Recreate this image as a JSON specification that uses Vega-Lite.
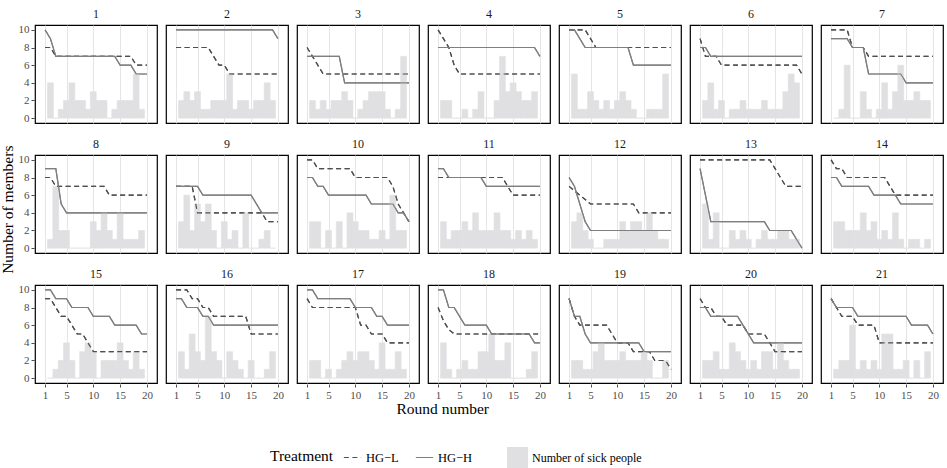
{
"$schema":"https://vega.github.io/schema/vega-lite/v6.json",
"padding":{"left":0,"top":7,"right":2,"bottom":2},
"title":{"text":"Number of members","orient":"left","anchor":"middle","dx":28,"font":"Liberation Serif","fontSize":15.5,"fontWeight":"normal","color":"#000000","offset":2},
"data":{"values":[
{"p":1,"r":1,"L":8,"H":10},{"p":1,"r":2,"L":8,"H":9,"S":4},{"p":1,"r":3,"L":7,"H":7,"S":0},{"p":1,"r":4,"L":7,"H":7,"S":1},{"p":1,"r":5,"L":7,"H":7,"S":2},{"p":1,"r":6,"L":7,"H":7,"S":4},{"p":1,"r":7,"L":7,"H":7,"S":2},{"p":1,"r":8,"L":7,"H":7,"S":2},{"p":1,"r":9,"L":7,"H":7,"S":1},{"p":1,"r":10,"L":7,"H":7,"S":3},{"p":1,"r":11,"L":7,"H":7,"S":2},{"p":1,"r":12,"L":7,"H":7,"S":2},{"p":1,"r":13,"L":7,"H":7,"S":0},{"p":1,"r":14,"L":7,"H":7,"S":1},{"p":1,"r":15,"L":7,"H":6,"S":2},{"p":1,"r":16,"L":7,"H":6,"S":2},{"p":1,"r":17,"L":7,"H":6,"S":2},{"p":1,"r":18,"L":6,"H":5,"S":5},{"p":1,"r":19,"L":6,"H":5,"S":1},{"p":1,"r":20,"L":6,"H":5},
{"p":2,"r":1,"L":8,"H":10},{"p":2,"r":2,"L":8,"H":10,"S":2},{"p":2,"r":3,"L":8,"H":10,"S":3},{"p":2,"r":4,"L":8,"H":10,"S":2},{"p":2,"r":5,"L":8,"H":10,"S":3},{"p":2,"r":6,"L":8,"H":10,"S":1},{"p":2,"r":7,"L":8,"H":10,"S":1},{"p":2,"r":8,"L":7,"H":10,"S":2},{"p":2,"r":9,"L":6,"H":10,"S":2},{"p":2,"r":10,"L":6,"H":10,"S":2},{"p":2,"r":11,"L":5,"H":10,"S":5},{"p":2,"r":12,"L":5,"H":10,"S":1},{"p":2,"r":13,"L":5,"H":10,"S":2},{"p":2,"r":14,"L":5,"H":10,"S":2},{"p":2,"r":15,"L":5,"H":10,"S":1},{"p":2,"r":16,"L":5,"H":10,"S":2},{"p":2,"r":17,"L":5,"H":10,"S":2},{"p":2,"r":18,"L":5,"H":10,"S":4},{"p":2,"r":19,"L":5,"H":10,"S":2},{"p":2,"r":20,"L":5,"H":9},
{"p":3,"r":1,"L":8,"H":7},{"p":3,"r":2,"L":7,"H":7,"S":2},{"p":3,"r":3,"L":6,"H":7,"S":1},{"p":3,"r":4,"L":5,"H":7,"S":2},{"p":3,"r":5,"L":5,"H":7,"S":1},{"p":3,"r":6,"L":5,"H":7,"S":2},{"p":3,"r":7,"L":5,"H":7,"S":2},{"p":3,"r":8,"L":5,"H":4,"S":3},{"p":3,"r":9,"L":5,"H":4,"S":2},{"p":3,"r":10,"L":5,"H":4,"S":0},{"p":3,"r":11,"L":5,"H":4,"S":1},{"p":3,"r":12,"L":5,"H":4,"S":2},{"p":3,"r":13,"L":5,"H":4,"S":3},{"p":3,"r":14,"L":5,"H":4,"S":3},{"p":3,"r":15,"L":5,"H":4,"S":3},{"p":3,"r":16,"L":5,"H":4,"S":1},{"p":3,"r":17,"L":5,"H":4,"S":0},{"p":3,"r":18,"L":5,"H":4,"S":1},{"p":3,"r":19,"L":5,"H":4,"S":7},{"p":3,"r":20,"L":5,"H":4},
{"p":4,"r":1,"L":10,"H":8},{"p":4,"r":2,"L":9,"H":8,"S":2},{"p":4,"r":3,"L":8,"H":8,"S":2},{"p":4,"r":4,"L":6,"H":8,"S":0},{"p":4,"r":5,"L":5,"H":8,"S":0},{"p":4,"r":6,"L":5,"H":8,"S":1},{"p":4,"r":7,"L":5,"H":8,"S":0},{"p":4,"r":8,"L":5,"H":8,"S":1},{"p":4,"r":9,"L":5,"H":8,"S":3},{"p":4,"r":10,"L":5,"H":8,"S":0},{"p":4,"r":11,"L":5,"H":8,"S":0},{"p":4,"r":12,"L":5,"H":8,"S":2},{"p":4,"r":13,"L":5,"H":8,"S":7},{"p":4,"r":14,"L":5,"H":8,"S":3},{"p":4,"r":15,"L":5,"H":8,"S":4},{"p":4,"r":16,"L":5,"H":8,"S":3},{"p":4,"r":17,"L":5,"H":8,"S":2},{"p":4,"r":18,"L":5,"H":8,"S":2},{"p":4,"r":19,"L":5,"H":8,"S":3},{"p":4,"r":20,"L":5,"H":7},
{"p":5,"r":1,"L":10,"H":10},{"p":5,"r":2,"L":10,"H":10,"S":5},{"p":5,"r":3,"L":10,"H":9,"S":1},{"p":5,"r":4,"L":10,"H":8,"S":1},{"p":5,"r":5,"L":9,"H":8,"S":3},{"p":5,"r":6,"L":8,"H":8,"S":2},{"p":5,"r":7,"L":8,"H":8,"S":1},{"p":5,"r":8,"L":8,"H":8,"S":2},{"p":5,"r":9,"L":8,"H":8,"S":1},{"p":5,"r":10,"L":8,"H":8,"S":2},{"p":5,"r":11,"L":8,"H":8,"S":3},{"p":5,"r":12,"L":8,"H":8,"S":2},{"p":5,"r":13,"L":8,"H":6,"S":1},{"p":5,"r":14,"L":8,"H":6,"S":0},{"p":5,"r":15,"L":8,"H":6,"S":0},{"p":5,"r":16,"L":8,"H":6,"S":1},{"p":5,"r":17,"L":8,"H":6,"S":1},{"p":5,"r":18,"L":8,"H":6,"S":1},{"p":5,"r":19,"L":8,"H":6,"S":5},{"p":5,"r":20,"L":8,"H":6},
{"p":6,"r":1,"L":9,"H":8},{"p":6,"r":2,"L":7,"H":8,"S":2},{"p":6,"r":3,"L":7,"H":7,"S":4},{"p":6,"r":4,"L":7,"H":7,"S":1},{"p":6,"r":5,"L":6,"H":7,"S":2},{"p":6,"r":6,"L":6,"H":7,"S":0},{"p":6,"r":7,"L":6,"H":7,"S":1},{"p":6,"r":8,"L":6,"H":7,"S":1},{"p":6,"r":9,"L":6,"H":7,"S":2},{"p":6,"r":10,"L":6,"H":7,"S":1},{"p":6,"r":11,"L":6,"H":7,"S":1},{"p":6,"r":12,"L":6,"H":7,"S":1},{"p":6,"r":13,"L":6,"H":7,"S":2},{"p":6,"r":14,"L":6,"H":7,"S":1},{"p":6,"r":15,"L":6,"H":7,"S":1},{"p":6,"r":16,"L":6,"H":7,"S":1},{"p":6,"r":17,"L":6,"H":7,"S":3},{"p":6,"r":18,"L":6,"H":7,"S":5},{"p":6,"r":19,"L":6,"H":7,"S":4},{"p":6,"r":20,"L":5,"H":7},
{"p":7,"r":1,"L":10,"H":9},{"p":7,"r":2,"L":10,"H":9,"S":0},{"p":7,"r":3,"L":10,"H":9,"S":1},{"p":7,"r":4,"L":10,"H":9,"S":6},{"p":7,"r":5,"L":8,"H":8,"S":0},{"p":7,"r":6,"L":8,"H":8,"S":0},{"p":7,"r":7,"L":8,"H":8,"S":3},{"p":7,"r":8,"L":7,"H":5,"S":1},{"p":7,"r":9,"L":7,"H":5,"S":0},{"p":7,"r":10,"L":7,"H":5,"S":1},{"p":7,"r":11,"L":7,"H":5,"S":4},{"p":7,"r":12,"L":7,"H":5,"S":1},{"p":7,"r":13,"L":7,"H":5,"S":3},{"p":7,"r":14,"L":7,"H":5,"S":6},{"p":7,"r":15,"L":7,"H":4,"S":2},{"p":7,"r":16,"L":7,"H":4,"S":2},{"p":7,"r":17,"L":7,"H":4,"S":3},{"p":7,"r":18,"L":7,"H":4,"S":2},{"p":7,"r":19,"L":7,"H":4,"S":2},{"p":7,"r":20,"L":7,"H":4},
{"p":8,"r":1,"L":8,"H":9},{"p":8,"r":2,"L":8,"H":9,"S":1},{"p":8,"r":3,"L":7,"H":9,"S":7},{"p":8,"r":4,"L":7,"H":5,"S":2},{"p":8,"r":5,"L":7,"H":4,"S":2},{"p":8,"r":6,"L":7,"H":4,"S":0},{"p":8,"r":7,"L":7,"H":4,"S":0},{"p":8,"r":8,"L":7,"H":4,"S":0},{"p":8,"r":9,"L":7,"H":4,"S":0},{"p":8,"r":10,"L":7,"H":4,"S":3},{"p":8,"r":11,"L":7,"H":4,"S":2},{"p":8,"r":12,"L":7,"H":4,"S":4},{"p":8,"r":13,"L":6,"H":4,"S":2},{"p":8,"r":14,"L":6,"H":4,"S":1},{"p":8,"r":15,"L":6,"H":4,"S":4},{"p":8,"r":16,"L":6,"H":4,"S":1},{"p":8,"r":17,"L":6,"H":4,"S":1},{"p":8,"r":18,"L":6,"H":4,"S":1},{"p":8,"r":19,"L":6,"H":4,"S":2},{"p":8,"r":20,"L":6,"H":4},
{"p":9,"r":1,"L":7,"H":7},{"p":9,"r":2,"L":7,"H":7,"S":3},{"p":9,"r":3,"L":7,"H":7,"S":6},{"p":9,"r":4,"L":7,"H":7,"S":2},{"p":9,"r":5,"L":4,"H":7,"S":5},{"p":9,"r":6,"L":4,"H":6,"S":3},{"p":9,"r":7,"L":4,"H":6,"S":5},{"p":9,"r":8,"L":4,"H":6,"S":2},{"p":9,"r":9,"L":4,"H":6,"S":0},{"p":9,"r":10,"L":4,"H":6,"S":3},{"p":9,"r":11,"L":4,"H":6,"S":1},{"p":9,"r":12,"L":4,"H":6,"S":2},{"p":9,"r":13,"L":4,"H":6,"S":0},{"p":9,"r":14,"L":4,"H":6,"S":4},{"p":9,"r":15,"L":4,"H":6,"S":0},{"p":9,"r":16,"L":4,"H":5,"S":0},{"p":9,"r":17,"L":4,"H":4,"S":1},{"p":9,"r":18,"L":3,"H":4,"S":2},{"p":9,"r":19,"L":3,"H":4,"S":0},{"p":9,"r":20,"L":3,"H":4},
{"p":10,"r":1,"L":10,"H":8},{"p":10,"r":2,"L":10,"H":8,"S":3},{"p":10,"r":3,"L":9,"H":7,"S":3},{"p":10,"r":4,"L":9,"H":7,"S":0},{"p":10,"r":5,"L":9,"H":6,"S":2},{"p":10,"r":6,"L":9,"H":6,"S":0},{"p":10,"r":7,"L":9,"H":6,"S":3},{"p":10,"r":8,"L":9,"H":6,"S":0},{"p":10,"r":9,"L":9,"H":6,"S":4},{"p":10,"r":10,"L":8,"H":6,"S":3},{"p":10,"r":11,"L":8,"H":6,"S":2},{"p":10,"r":12,"L":8,"H":6,"S":2},{"p":10,"r":13,"L":8,"H":5,"S":1},{"p":10,"r":14,"L":8,"H":5,"S":1},{"p":10,"r":15,"L":8,"H":5,"S":2},{"p":10,"r":16,"L":8,"H":5,"S":1},{"p":10,"r":17,"L":7,"H":5,"S":6},{"p":10,"r":18,"L":5,"H":4,"S":2},{"p":10,"r":19,"L":4,"H":4,"S":2},{"p":10,"r":20,"L":3,"H":3},
{"p":11,"r":1,"L":8,"H":9},{"p":11,"r":2,"L":8,"H":9,"S":3},{"p":11,"r":3,"L":8,"H":8,"S":1},{"p":11,"r":4,"L":8,"H":8,"S":2},{"p":11,"r":5,"L":8,"H":8,"S":2},{"p":11,"r":6,"L":8,"H":8,"S":3},{"p":11,"r":7,"L":8,"H":8,"S":2},{"p":11,"r":8,"L":8,"H":8,"S":4},{"p":11,"r":9,"L":8,"H":8,"S":2},{"p":11,"r":10,"L":8,"H":7,"S":2},{"p":11,"r":11,"L":8,"H":7,"S":2},{"p":11,"r":12,"L":8,"H":7,"S":4},{"p":11,"r":13,"L":8,"H":7,"S":2},{"p":11,"r":14,"L":7,"H":7,"S":2},{"p":11,"r":15,"L":6,"H":7,"S":1},{"p":11,"r":16,"L":6,"H":7,"S":2},{"p":11,"r":17,"L":6,"H":7,"S":1},{"p":11,"r":18,"L":6,"H":7,"S":2},{"p":11,"r":19,"L":6,"H":7,"S":1},{"p":11,"r":20,"L":6,"H":7},
{"p":12,"r":1,"L":7,"H":8},{"p":12,"r":2,"L":6.5,"H":7,"S":3},{"p":12,"r":3,"L":6,"H":5,"S":4},{"p":12,"r":4,"L":5.5,"H":3,"S":2},{"p":12,"r":5,"L":5,"H":2,"S":1},{"p":12,"r":6,"L":5,"H":2,"S":0},{"p":12,"r":7,"L":5,"H":2,"S":0},{"p":12,"r":8,"L":5,"H":2,"S":1},{"p":12,"r":9,"L":5,"H":2,"S":1},{"p":12,"r":10,"L":5,"H":2,"S":1},{"p":12,"r":11,"L":5,"H":2,"S":3},{"p":12,"r":12,"L":5,"H":2,"S":2},{"p":12,"r":13,"L":5,"H":2,"S":3},{"p":12,"r":14,"L":4,"H":2,"S":3},{"p":12,"r":15,"L":4,"H":2,"S":2},{"p":12,"r":16,"L":4,"H":2,"S":4},{"p":12,"r":17,"L":4,"H":2,"S":2},{"p":12,"r":18,"L":4,"H":2,"S":1},{"p":12,"r":19,"L":4,"H":2,"S":1},{"p":12,"r":20,"L":4,"H":2},
{"p":13,"r":1,"L":10,"H":9},{"p":13,"r":2,"L":10,"H":6,"S":5},{"p":13,"r":3,"L":10,"H":3,"S":1},{"p":13,"r":4,"L":10,"H":3,"S":4},{"p":13,"r":5,"L":10,"H":3,"S":0},{"p":13,"r":6,"L":10,"H":3,"S":0},{"p":13,"r":7,"L":10,"H":3,"S":2},{"p":13,"r":8,"L":10,"H":3,"S":1},{"p":13,"r":9,"L":10,"H":3,"S":2},{"p":13,"r":10,"L":10,"H":3,"S":1},{"p":13,"r":11,"L":10,"H":3,"S":0},{"p":13,"r":12,"L":10,"H":3,"S":1},{"p":13,"r":13,"L":10,"H":3,"S":2},{"p":13,"r":14,"L":10,"H":2,"S":1},{"p":13,"r":15,"L":9,"H":2,"S":1},{"p":13,"r":16,"L":8,"H":2,"S":2},{"p":13,"r":17,"L":7,"H":2,"S":2},{"p":13,"r":18,"L":7,"H":2,"S":1},{"p":13,"r":19,"L":7,"H":1,"S":1},{"p":13,"r":20,"L":7,"H":0},
{"p":14,"r":1,"L":10,"H":8},{"p":14,"r":2,"L":9,"H":8,"S":3},{"p":14,"r":3,"L":9,"H":7,"S":3},{"p":14,"r":4,"L":8,"H":7,"S":2},{"p":14,"r":5,"L":8,"H":7,"S":2},{"p":14,"r":6,"L":8,"H":7,"S":2},{"p":14,"r":7,"L":8,"H":7,"S":4},{"p":14,"r":8,"L":8,"H":7,"S":2},{"p":14,"r":9,"L":8,"H":6,"S":3},{"p":14,"r":10,"L":8,"H":6,"S":1},{"p":14,"r":11,"L":8,"H":6,"S":2},{"p":14,"r":12,"L":7,"H":6,"S":1},{"p":14,"r":13,"L":6,"H":6,"S":4},{"p":14,"r":14,"L":6,"H":5,"S":1},{"p":14,"r":15,"L":6,"H":5,"S":0},{"p":14,"r":16,"L":6,"H":5,"S":1},{"p":14,"r":17,"L":6,"H":5,"S":1},{"p":14,"r":18,"L":6,"H":5,"S":0},{"p":14,"r":19,"L":6,"H":5,"S":1},{"p":14,"r":20,"L":6,"H":5},
{"p":15,"r":1,"L":9,"H":10},{"p":15,"r":2,"L":9,"H":10,"S":0},{"p":15,"r":3,"L":8,"H":9,"S":1},{"p":15,"r":4,"L":7,"H":9,"S":2},{"p":15,"r":5,"L":7,"H":9,"S":4},{"p":15,"r":6,"L":6,"H":8,"S":2},{"p":15,"r":7,"L":5,"H":8,"S":0},{"p":15,"r":8,"L":5,"H":8,"S":3},{"p":15,"r":9,"L":4,"H":8,"S":4},{"p":15,"r":10,"L":3,"H":7,"S":3},{"p":15,"r":11,"L":3,"H":7,"S":0},{"p":15,"r":12,"L":3,"H":7,"S":2},{"p":15,"r":13,"L":3,"H":7,"S":2},{"p":15,"r":14,"L":3,"H":6,"S":2},{"p":15,"r":15,"L":3,"H":6,"S":4},{"p":15,"r":16,"L":3,"H":6,"S":2},{"p":15,"r":17,"L":3,"H":6,"S":1},{"p":15,"r":18,"L":3,"H":6,"S":3},{"p":15,"r":19,"L":3,"H":5,"S":1},{"p":15,"r":20,"L":3,"H":5},
{"p":16,"r":1,"L":10,"H":9},{"p":16,"r":2,"L":10,"H":9,"S":3},{"p":16,"r":3,"L":10,"H":8,"S":1},{"p":16,"r":4,"L":9,"H":8,"S":5},{"p":16,"r":5,"L":9,"H":8,"S":3},{"p":16,"r":6,"L":8,"H":7,"S":2},{"p":16,"r":7,"L":8,"H":7,"S":7},{"p":16,"r":8,"L":7,"H":6,"S":3},{"p":16,"r":9,"L":7,"H":6,"S":2},{"p":16,"r":10,"L":7,"H":6,"S":0},{"p":16,"r":11,"L":7,"H":6,"S":3},{"p":16,"r":12,"L":7,"H":6,"S":2},{"p":16,"r":13,"L":7,"H":6,"S":1},{"p":16,"r":14,"L":7,"H":6,"S":0},{"p":16,"r":15,"L":5,"H":6,"S":2},{"p":16,"r":16,"L":5,"H":6,"S":0},{"p":16,"r":17,"L":5,"H":6,"S":0},{"p":16,"r":18,"L":5,"H":6,"S":1},{"p":16,"r":19,"L":5,"H":6,"S":3},{"p":16,"r":20,"L":5,"H":6},
{"p":17,"r":1,"L":9,"H":10},{"p":17,"r":2,"L":8,"H":10,"S":2},{"p":17,"r":3,"L":8,"H":9,"S":2},{"p":17,"r":4,"L":8,"H":9,"S":0},{"p":17,"r":5,"L":8,"H":9,"S":1},{"p":17,"r":6,"L":8,"H":9,"S":0},{"p":17,"r":7,"L":8,"H":9,"S":1},{"p":17,"r":8,"L":8,"H":9,"S":2},{"p":17,"r":9,"L":8,"H":9,"S":3},{"p":17,"r":10,"L":8,"H":8,"S":2},{"p":17,"r":11,"L":6,"H":8,"S":3},{"p":17,"r":12,"L":6,"H":8,"S":3},{"p":17,"r":13,"L":5,"H":8,"S":2},{"p":17,"r":14,"L":5,"H":7,"S":1},{"p":17,"r":15,"L":5,"H":7,"S":4},{"p":17,"r":16,"L":4,"H":6,"S":1},{"p":17,"r":17,"L":4,"H":6,"S":1},{"p":17,"r":18,"L":4,"H":6,"S":3},{"p":17,"r":19,"L":4,"H":6,"S":1},{"p":17,"r":20,"L":4,"H":6},
{"p":18,"r":1,"L":8,"H":10},{"p":18,"r":2,"L":6.5,"H":10,"S":4},{"p":18,"r":3,"L":5.5,"H":8,"S":1},{"p":18,"r":4,"L":5,"H":8,"S":0},{"p":18,"r":5,"L":5,"H":7,"S":1},{"p":18,"r":6,"L":5,"H":6,"S":2},{"p":18,"r":7,"L":5,"H":6,"S":1},{"p":18,"r":8,"L":5,"H":6,"S":1},{"p":18,"r":9,"L":5,"H":6,"S":3},{"p":18,"r":10,"L":5,"H":6,"S":3},{"p":18,"r":11,"L":5,"H":5,"S":5},{"p":18,"r":12,"L":5,"H":5,"S":2},{"p":18,"r":13,"L":5,"H":5,"S":2},{"p":18,"r":14,"L":5,"H":5,"S":4},{"p":18,"r":15,"L":5,"H":5,"S":0},{"p":18,"r":16,"L":5,"H":5,"S":0},{"p":18,"r":17,"L":5,"H":5,"S":0},{"p":18,"r":18,"L":5,"H":5,"S":1},{"p":18,"r":19,"L":5,"H":4,"S":3},{"p":18,"r":20,"L":5,"H":4},
{"p":19,"r":1,"L":9,"H":9},{"p":19,"r":2,"L":7,"H":7,"S":2},{"p":19,"r":3,"L":6,"H":7,"S":2},{"p":19,"r":4,"L":6,"H":5,"S":1},{"p":19,"r":5,"L":6,"H":4,"S":1},{"p":19,"r":6,"L":6,"H":4,"S":3},{"p":19,"r":7,"L":6,"H":4,"S":4},{"p":19,"r":8,"L":6,"H":4,"S":2},{"p":19,"r":9,"L":5,"H":4,"S":2},{"p":19,"r":10,"L":4,"H":4,"S":2},{"p":19,"r":11,"L":4,"H":4,"S":3},{"p":19,"r":12,"L":4,"H":4,"S":2},{"p":19,"r":13,"L":3,"H":4,"S":2},{"p":19,"r":14,"L":3,"H":4,"S":2},{"p":19,"r":15,"L":3,"H":3,"S":3},{"p":19,"r":16,"L":3,"H":3,"S":2},{"p":19,"r":17,"L":2,"H":3,"S":0},{"p":19,"r":18,"L":2,"H":3,"S":0},{"p":19,"r":19,"L":2,"H":3,"S":2},{"p":19,"r":20,"L":1,"H":3},
{"p":20,"r":1,"L":9,"H":8},{"p":20,"r":2,"L":8,"H":8,"S":2},{"p":20,"r":3,"L":8,"H":7,"S":2},{"p":20,"r":4,"L":7,"H":7,"S":3},{"p":20,"r":5,"L":7,"H":7,"S":1},{"p":20,"r":6,"L":6,"H":7,"S":1},{"p":20,"r":7,"L":6,"H":7,"S":4},{"p":20,"r":8,"L":6,"H":7,"S":3},{"p":20,"r":9,"L":6,"H":6,"S":2},{"p":20,"r":10,"L":5,"H":5,"S":1},{"p":20,"r":11,"L":5,"H":4,"S":2},{"p":20,"r":12,"L":5,"H":4,"S":1},{"p":20,"r":13,"L":5,"H":4,"S":3},{"p":20,"r":14,"L":4,"H":4,"S":3},{"p":20,"r":15,"L":3,"H":4,"S":1},{"p":20,"r":16,"L":3,"H":4,"S":4},{"p":20,"r":17,"L":3,"H":4,"S":2},{"p":20,"r":18,"L":3,"H":4,"S":1},{"p":20,"r":19,"L":3,"H":4,"S":1},{"p":20,"r":20,"L":3,"H":4},
{"p":21,"r":1,"L":9,"H":9},{"p":21,"r":2,"L":8,"H":8,"S":1},{"p":21,"r":3,"L":7,"H":8,"S":2},{"p":21,"r":4,"L":7,"H":8,"S":2},{"p":21,"r":5,"L":7,"H":8,"S":6},{"p":21,"r":6,"L":6,"H":7,"S":1},{"p":21,"r":7,"L":6,"H":7,"S":2},{"p":21,"r":8,"L":6,"H":7,"S":1},{"p":21,"r":9,"L":6,"H":7,"S":2},{"p":21,"r":10,"L":4,"H":7,"S":1},{"p":21,"r":11,"L":4,"H":7,"S":5},{"p":21,"r":12,"L":4,"H":7,"S":5},{"p":21,"r":13,"L":4,"H":7,"S":1},{"p":21,"r":14,"L":4,"H":7,"S":1},{"p":21,"r":15,"L":4,"H":7,"S":2},{"p":21,"r":16,"L":4,"H":6,"S":0},{"p":21,"r":17,"L":4,"H":6,"S":2},{"p":21,"r":18,"L":4,"H":6,"S":0},{"p":21,"r":19,"L":4,"H":6,"S":3},{"p":21,"r":20,"L":4,"H":5}
]},
"facet":{"field":"p","type":"ordinal","title":"Round number","header":{"labelPadding":4,"labelOrient":"top","titleOrient":"bottom","titlePadding":2,"titleAlign":"right"}},
"columns":7,
"spacing":{"row":13,"column":7},
"spec":{
"width":122,"height":98,
"encoding":{
  "x":{"field":"r","type":"quantitative","scale":{"domain":[0.05,20.95],"nice":false,"zero":false},"axis":{"values":[1,5,10,15,20],"title":null,"grid":true,"labelOverlap":false}}
},
"layer":[
{"transform":[{"fold":["L","H"],"as":["t","m"]}],
 "mark":{"type":"line","strokeWidth":1.2},
 "encoding":{
  "y":{"field":"m","type":"quantitative","scale":{"domain":[-0.55,10.55],"nice":false,"zero":false},"axis":{"values":[0,2,4,6,8,10],"title":null,"grid":false,"labelOverlap":false,"labelBound":false}},
  "color":{"field":"t","type":"nominal","scale":{"domain":["L","H"],"range":["#4f4f4f","#7f7f7f"]},"legend":{"title":"Treatment","orient":"none","legendX":235,"legendY":423,"titlePadding":9,"labelExpr":"datum.value == 'L' ? 'HG−L' : 'HG−H'"}},
  "strokeDash":{"field":"t","type":"nominal","scale":{"domain":["L","H"],"range":[[5,3.5],[1,0]]},"legend":{"title":"Treatment","orient":"none","legendX":235,"legendY":423,"titlePadding":9,"labelExpr":"datum.value == 'L' ? 'HG−L' : 'HG−H'"}}
 }},
{"transform":[{"filter":"isValid(datum.S)"}],
 "mark":{"type":"bar","width":5.9,"stroke":"#e0e0e2","strokeWidth":0.6},
 "encoding":{
  "y":{"field":"S","type":"quantitative","axis":{"values":[0,2,4,6,8,10],"title":null,"grid":false,"labelOverlap":false,"labelBound":false}},
  "y2":{"datum":0},
  "fill":{"datum":"Number of sick people","type":"nominal","scale":{"range":["#e0e0e2"]},"legend":{"title":null,"orient":"none","legendX":472,"legendY":422,"symbolType":"square","symbolSize":440,"symbolStrokeWidth":0,"labelFontSize":12}}
 }},
{"transform":[{"fold":["L","H"],"as":["t","m"]}],
 "mark":{"type":"line","strokeWidth":1.2},
 "encoding":{
  "y":{"field":"m","type":"quantitative","axis":{"values":[0,2,4,6,8,10],"title":null,"grid":false,"labelOverlap":false,"labelBound":false}},
  "color":{"field":"t","type":"nominal"},
  "strokeDash":{"field":"t","type":"nominal"}
 }}
]},
"config":{
 "font":"Liberation Serif",
 "view":{"stroke":"#000000","strokeWidth":1.2},
 "axis":{"labelFont":"Liberation Serif","labelFontSize":11,"labelColor":"#4d4d4d","labelOverlap":false,"labelFlush":false,"tickColor":"#4d4d4d","tickSize":3,"domain":false,"titleFont":"Liberation Serif","titleFontSize":15,"titleFontWeight":"normal","titleColor":"#000000","gridColor":"#dedede","gridWidth":0.8},
 "header":{"labelFont":"Liberation Serif","labelFontSize":12,"labelColor":"#1a1a1a","titleFont":"Liberation Serif","titleFontSize":15.5,"titleFontWeight":"normal","titleColor":"#000000"},
 "legend":{"direction":"horizontal","titleOrient":"left","titleAnchor":"middle","titleBaseline":"middle","labelFont":"Liberation Serif","titleFont":"Liberation Serif","titleFontWeight":"normal","titleFontSize":15.5,"labelFontSize":12.5,"symbolSize":300,"symbolStrokeWidth":1.2,"columnPadding":14,"labelColor":"#000000"}
}
}
